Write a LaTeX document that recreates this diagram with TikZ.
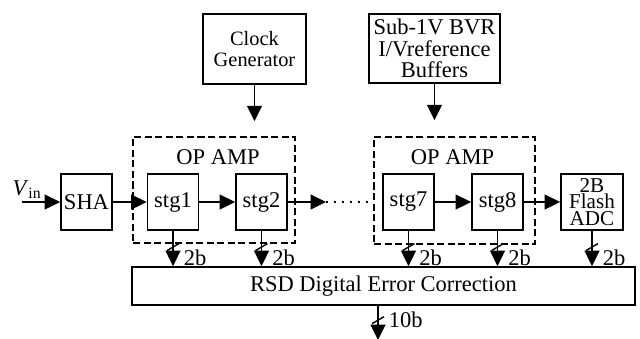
\documentclass[tikz,border=0pt]{standalone}
\usepackage{fontspec}
\setmainfont{Liberation Serif}
\usetikzlibrary{arrows.meta}

\begin{document}
\begin{tikzpicture}[x=0.025cm,y=0.025cm,font=\fontsize{16}{15.5}\selectfont]
\tikzstyle{block} = [draw, line width=1.2pt, inner sep=0pt, align=center]
\tikzstyle{stage} = [block, minimum width=1.275cm, minimum height=1.4cm]
\tikzstyle{group} = [draw, line width=1pt, dash pattern=on 5pt off 2.5pt]
\tikzstyle{arrow} = [line width=1.3pt, -{Triangle[length=11pt,width=10.5pt]}]
\tikzstyle{bits} = [anchor=west, inner sep=0pt, xshift=7pt]
\tikzstyle{slash} = [line width=1pt]

\useasboundingbox (0,0) rectangle (640,-338);

% control blocks on top
\node (clk) [block, minimum width=2.575cm, minimum height=1.75cm, font=\fontsize{14.5}{15.5}\selectfont] at (254.5,-49) {Clock\\Generator};
\node (ref) [block, minimum width=3.275cm, minimum height=1.725cm] at (434.5,-48.5) {Sub-1V BVR\\I/Vreference\\Buffers};

% shared op amps
\node (amp1) [group, minimum width=4.05cm, minimum height=2.65cm] at (214,-190) {};
\node (amp2) [group, minimum width=4.025cm, minimum height=2.675cm] at (454.5,-190.5) {};
\node (amp1lbl) at (218,-157) {OP AMP};
\node (amp2lbl) at (452.5,-157) {OP AMP};

% pipeline
\coordinate (vin) at (22,-202);
\node (vinlbl) [anchor=south, inner sep=0pt] at (27,-199) {\textit{V}\textsubscript{in}};
\node (sha) [stage] at (86.5,-202) {SHA};
\node (stg1) [stage] at (173,-202) {stg1};
\node (stg2) [stage] at (261.5,-202) {stg2};
\node (stg7) [stage] at (408.5,-202) {stg7};
\node (stg8) [stage] at (497.5,-202) {stg8};
\node (adc) [stage, minimum width=1.55cm, font=\fontsize{15}{12}\selectfont] at (592,-202) {2B\\Flash\\ADC};
\coordinate (gap) at (326,-202);

\node (rsd) [block, minimum width=12.575cm, minimum height=0.95cm] at (383.5,-286) {RSD Digital Error Correction};
\coordinate (out) at (378,-340);

\draw [arrow] (clk.south) -- ([yshift=0.375cm]clk.south |- amp1.north);
\draw [arrow] (ref.south) -- ([yshift=0.4cm]ref.south |- amp2.north);

\draw [arrow] (vin) -- (sha);
\draw [arrow] (sha) -- (stg1);
\draw [arrow] (stg1) -- (stg2);
\draw [arrow] (stg2) -- (gap);
\draw [line width=1.4pt, dash pattern=on 1.4pt off 4.3pt] (gap) -- ([xshift=-0.25cm]stg7.west);
\draw [arrow] (stg7) -- (stg8);
\draw [arrow] (stg8) -- (adc);

% 2-bit outputs into the correction logic
\foreach \s in {stg1,stg2,stg7,stg8,adc} {
  \draw [arrow] (\s.south) -- coordinate[pos=0.46] (\s-cut) node[bits, pos=0.76]{2b} (\s.south |- rsd.north);
  \draw [slash] ([shift={(-6,-3.5)}]\s-cut) -- ++(12,7);
}

\draw [arrow] (rsd.south -| out) -- coordinate[pos=0.42] (out-cut) node[bits, pos=0.42]{10b} (out);
\draw [slash] ([shift={(-6,-3.5)}]out-cut) -- ++(12,7);

\end{tikzpicture}
\end{document}
